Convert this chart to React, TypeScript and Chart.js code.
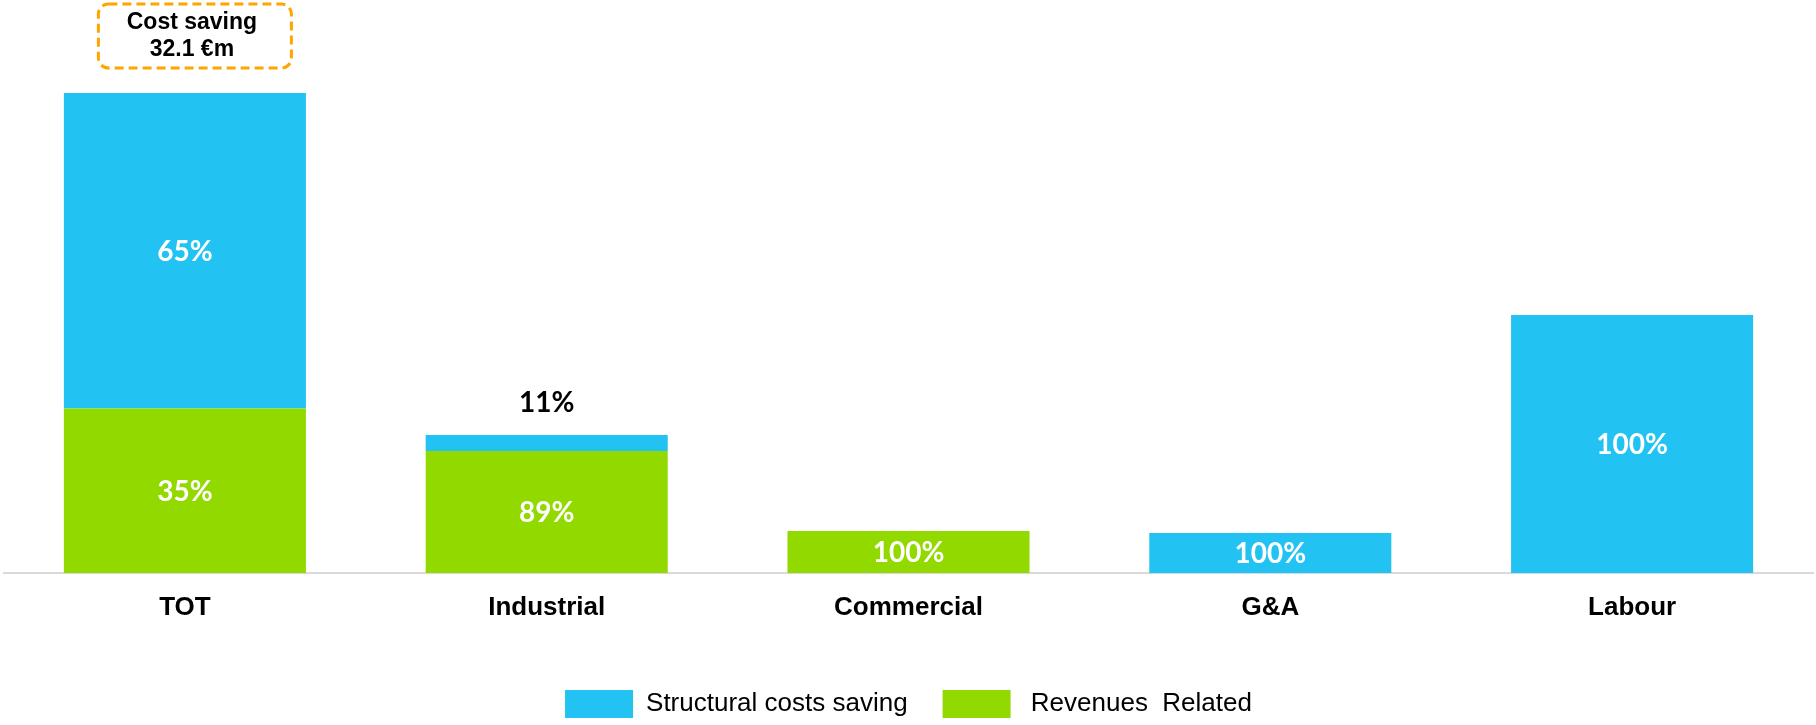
import { useEffect, useRef } from 'react';
import { Chart, ChartConfiguration, Plugin, registerables } from 'chart.js';

Chart.register(...registerables);

// values in €m
const categories = ['TOT', 'Industrial', 'Commercial', 'G&A', 'Labour'];
const revenueValues = [11.0, 8.16, 2.81, 0, 0];
const structuralValues = [21.1, 1.07, 0, 2.68, 17.25];
const revenueLabels = ['35%', '89%', '100%', '', ''];
const structuralLabels = ['65%', '11%', '', '100%', '100%'];
const totalSaving = 32.1;

const BLUE = '#22C3F3';
const GREEN = '#92D900';
const ORANGE = '#FFA500';

// same order as the datasets (bottom segment first)
const segmentLabels = [revenueLabels, structuralLabels];

const valueLabelsPlugin: Plugin<'bar'> = {
  id: 'valueLabels',
  afterDatasetsDraw(chart) {
    const ctx = chart.ctx;
    ctx.save();
    ctx.font = 'bold 28px Lato';
    ctx.textAlign = 'center';
    ctx.textBaseline = 'middle';
    chart.data.datasets.forEach((ds, di) => {
      const meta = chart.getDatasetMeta(di);
      meta.data.forEach((bar: any, i) => {
        const v = ds.data[i] as number;
        const text = segmentLabels[di][i];
        if (!v || !text) return;
        const h = bar.base - bar.y;
        if (h < 30) {
          // too thin: put it above the bar
          ctx.fillStyle = '#000000';
          ctx.fillText(text, bar.x, bar.y - 32);
        } else {
          ctx.fillStyle = '#ffffff';
          ctx.fillText(text, bar.x, (bar.y + bar.base) / 2 + 1);
        }
      });
    });
    ctx.restore();
  },
};

const totalBoxPlugin: Plugin<'bar'> = {
  id: 'totalBox',
  afterDraw(chart) {
    const ctx = chart.ctx;
    const bottomBar: any = chart.getDatasetMeta(0).data[0];
    const topBar: any = chart.getDatasetMeta(1).data[0];
    const top = Math.min(bottomBar.y, topBar.y);
    const w = 193;
    const h = 64;
    const cx = bottomBar.x + 10;
    const y = top - 25 - h;
    ctx.save();
    ctx.strokeStyle = ORANGE;
    ctx.lineWidth = 3;
    ctx.setLineDash([9, 5]);
    ctx.beginPath();
    ctx.roundRect(cx - w / 2, y, w, h, 10);
    ctx.stroke();
    ctx.setLineDash([]);
    ctx.fillStyle = '#000000';
    ctx.font = 'bold 23px "Liberation Sans"';
    ctx.textAlign = 'center';
    ctx.textBaseline = 'middle';
    ctx.fillText('Cost saving', cx - 3, y + 19);
    ctx.fillText(`${totalSaving} €m`, cx - 3, y + 46);
    ctx.restore();
  },
};

export default function App() {
  const canvasRef = useRef<HTMLCanvasElement>(null);
  const chartInstance = useRef<Chart | null>(null);

  useEffect(() => {
    document.body.style.margin = '0';
    if (!canvasRef.current) return;
    const ctx = canvasRef.current.getContext('2d');
    if (!ctx) return;

    if (chartInstance.current) {
      chartInstance.current.destroy();
    }

    const config: ChartConfiguration<'bar'> = {
      type: 'bar',
      data: {
        labels: categories,
        datasets: [
          {
            label: ' Revenues  Related',
            data: revenueValues,
            backgroundColor: GREEN,
            categoryPercentage: 1,
            barPercentage: 0.669,
          },
          {
            label: 'Structural costs saving',
            data: structuralValues,
            backgroundColor: BLUE,
            categoryPercentage: 1,
            barPercentage: 0.669,
          },
        ],
      },
      options: {
        responsive: false,
        animation: false,
        layout: { padding: { top: 93, left: 4, right: 3, bottom: -3 } },
        plugins: {
          tooltip: { enabled: false },
          legend: {
            position: 'bottom',
            reverse: true,
            labels: {
              boxWidth: 68,
              boxHeight: 28,
              padding: 35,
              color: '#000000',
              font: { family: '"Liberation Sans"', size: 26 },
            },
          },
        },
        scales: {
          x: {
            stacked: true,
            grid: { display: false, drawTicks: false },
            border: { display: true, color: '#d9d9d9', width: 2 },
            ticks: {
              color: '#000000',
              padding: 19,
              font: { family: '"Liberation Sans"', size: 26, weight: 'bold' },
            },
            afterFit: (scale) => {
              scale.height = 82;
            },
          },
          y: {
            stacked: true,
            display: false,
            min: 0,
            max: totalSaving,
          },
        },
      },
      plugins: [valueLabelsPlugin, totalBoxPlugin],
    };

    chartInstance.current = new Chart(ctx, config);

    return () => {
      if (chartInstance.current) {
        chartInstance.current.destroy();
      }
    };
  }, []);

  return (
    <div style={{ width: 1816, height: 725, background: '#ffffff' }}>
      <canvas ref={canvasRef} width={1816} height={725} />
    </div>
  );
}
